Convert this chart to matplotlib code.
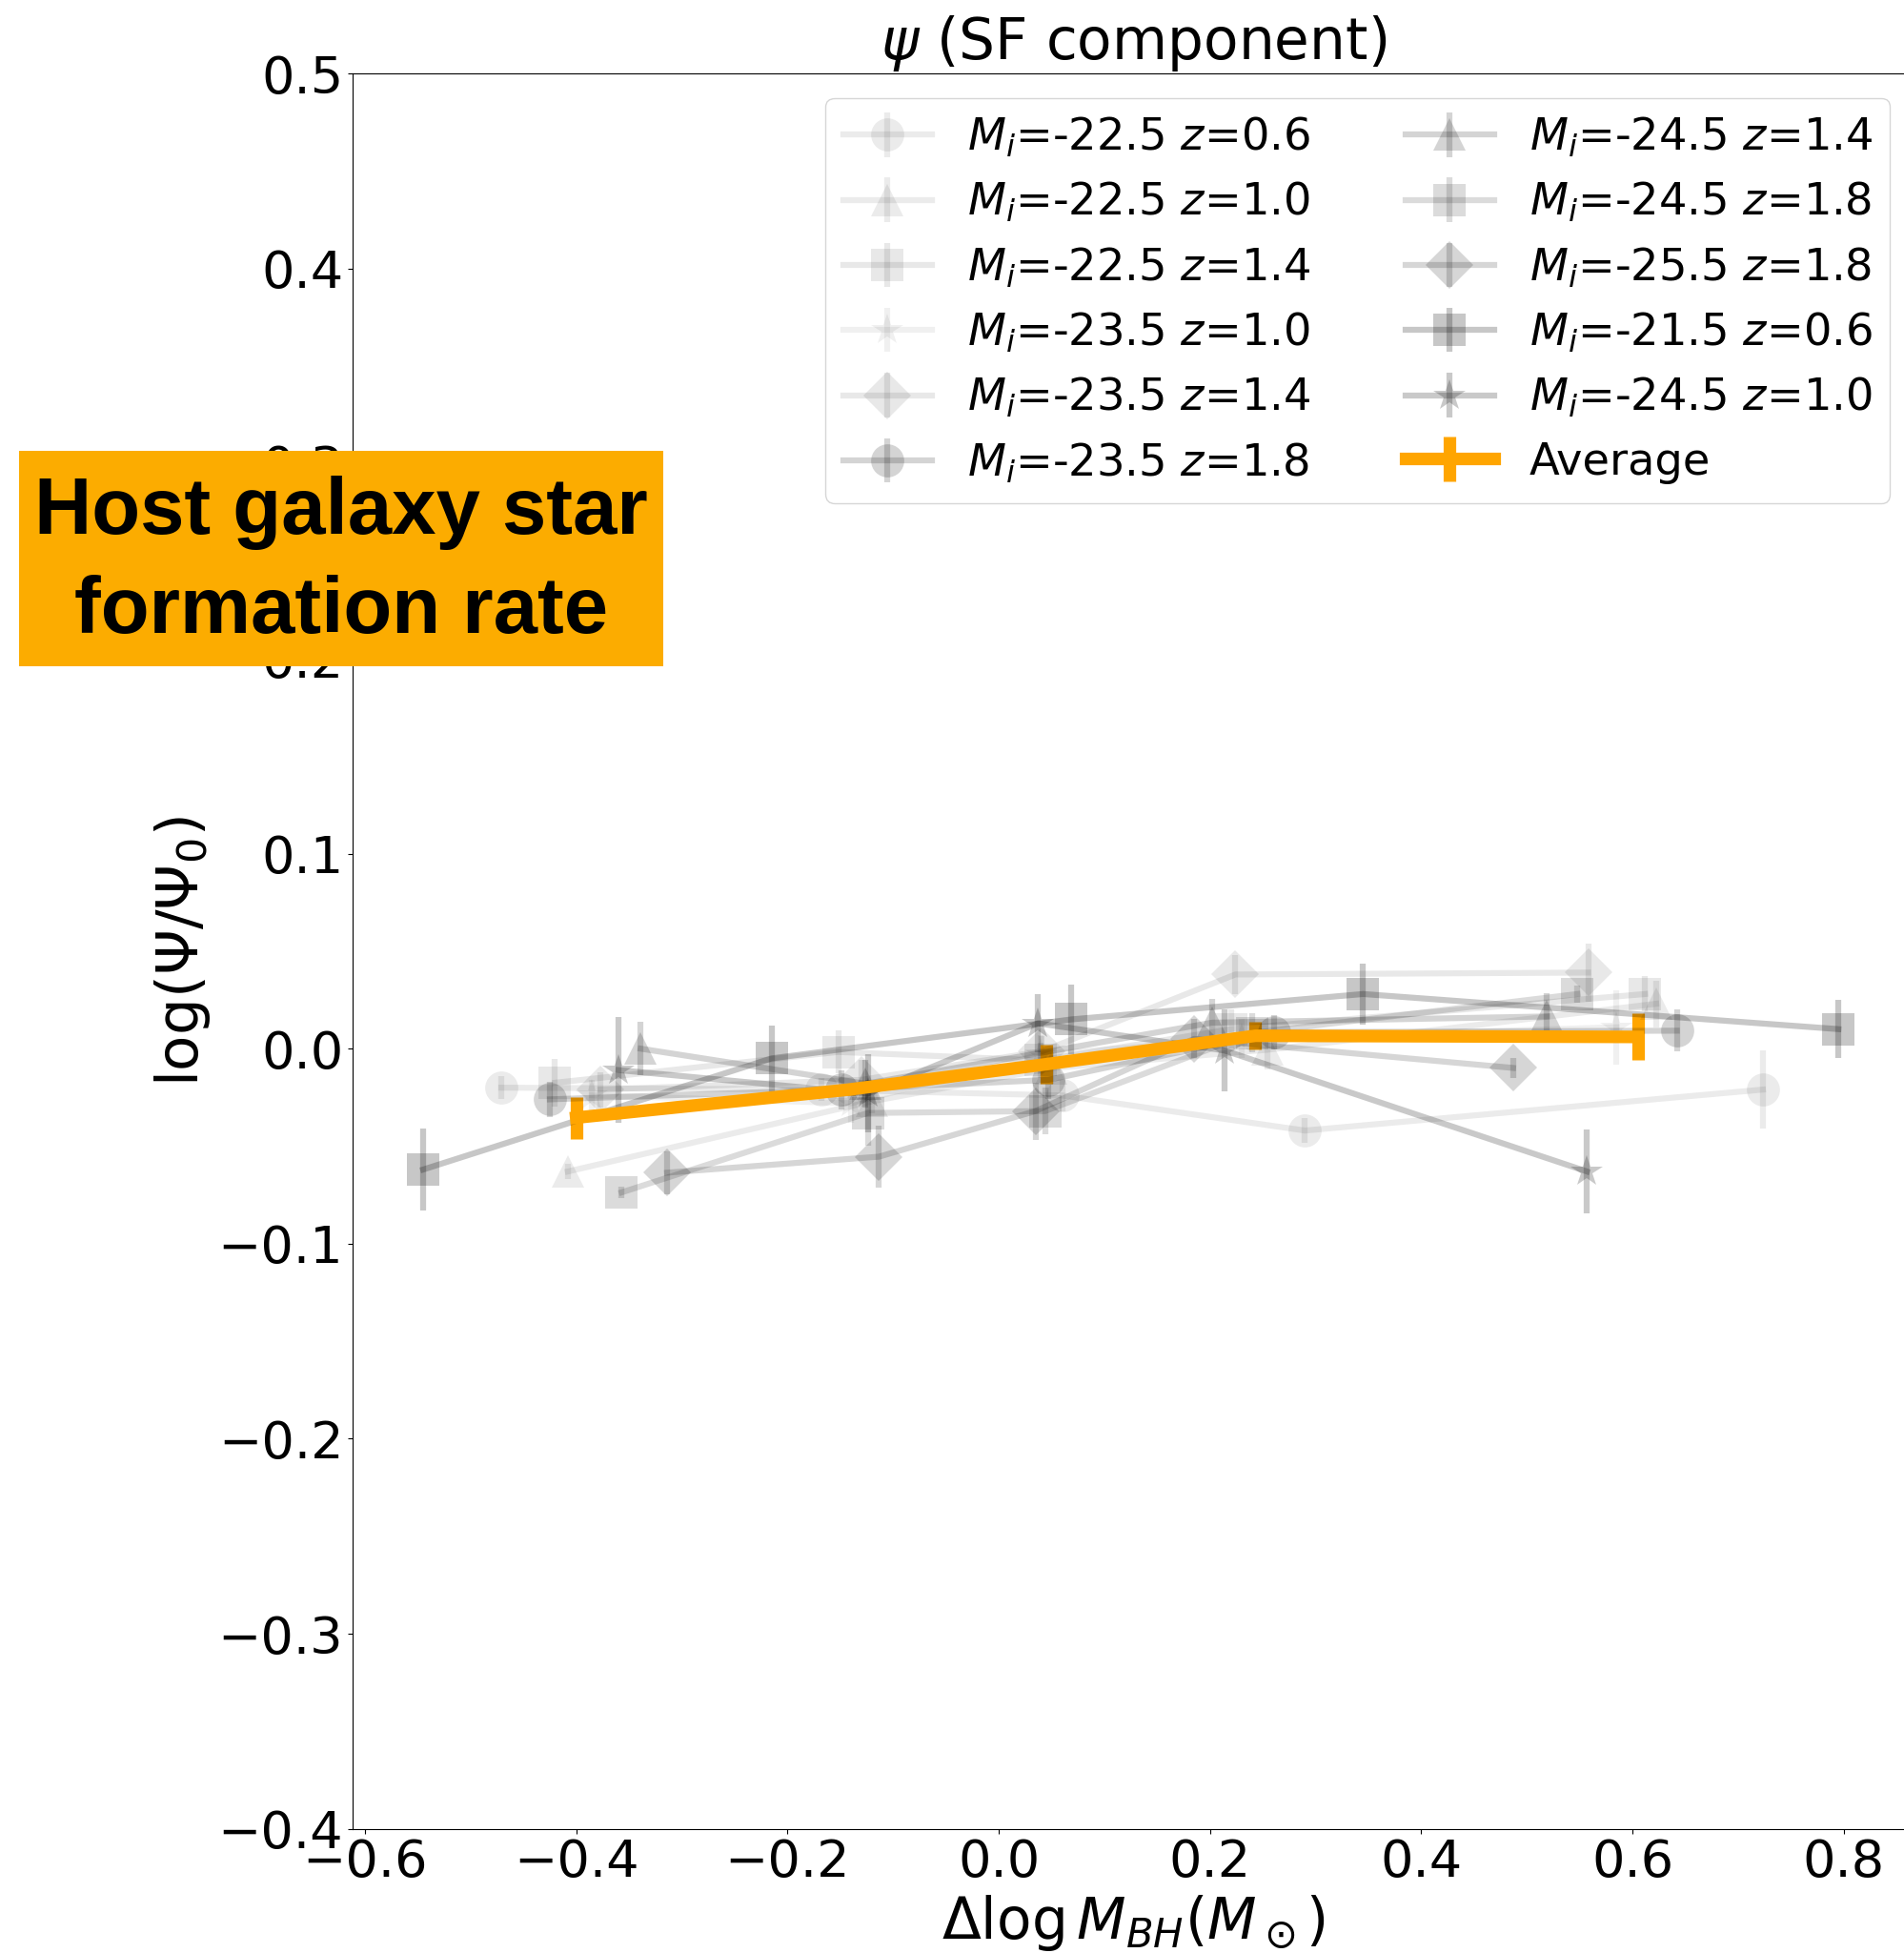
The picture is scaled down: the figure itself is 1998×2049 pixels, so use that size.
import matplotlib
matplotlib.use("Agg")
import matplotlib.pyplot as plt
from matplotlib.patches import Rectangle

# ---------------- data ----------------
labels = [r'$M_i$=-22.5 $z$=0.6', r'$M_i$=-22.5 $z$=1.0', r'$M_i$=-22.5 $z$=1.4',
          r'$M_i$=-23.5 $z$=1.0', r'$M_i$=-23.5 $z$=1.4', r'$M_i$=-23.5 $z$=1.8',
          r'$M_i$=-24.5 $z$=1.4', r'$M_i$=-24.5 $z$=1.8', r'$M_i$=-25.5 $z$=1.8',
          r'$M_i$=-21.5 $z$=0.6', r'$M_i$=-24.5 $z$=1.0']
markers = ['o', '^', 's', '*', 'D', 'o', '^', 's', 'D', 's', '*']
alphas = [0.08, 0.08, 0.09, 0.06, 0.09, 0.17, 0.17, 0.14, 0.16, 0.22, 0.21]

x_s1 = [-0.471, -0.168, 0.060, 0.290, 0.7235]
y_s1 = [-0.020, -0.021, -0.024, -0.042, -0.021]
e_s1 = [0.006, 0.006, 0.008, 0.0065, 0.020]

x_s2 = [-0.408, -0.120, 0.050, 0.254, 0.6225]
y_s2 = [-0.063, -0.027, -0.010, -0.0006, 0.023]
e_s2 = [0.004, 0.006, 0.008, 0.010, 0.012]

x_s3 = [-0.420, -0.152, 0.040, 0.220, 0.612]
y_s3 = [-0.0175, -0.0017, -0.006, 0.010, 0.028]
e_s3 = [0.012, 0.011, 0.009, 0.010, 0.009]

x_s4 = [-0.385, -0.140, 0.040, 0.230, 0.585]
y_s4 = [-0.024, -0.028, -0.003, 0.005, 0.011]
e_s4 = [0.008, 0.010, 0.010, 0.010, 0.019]

x_s5 = [-0.377, -0.130, 0.041, 0.224, 0.558]
y_s5 = [-0.021, -0.016, -0.0014, 0.038, 0.039]
e_s5 = [0.009, 0.010, 0.008, 0.010, 0.015]

x_s6 = [-0.425, -0.149, 0.047, 0.2605, 0.642]
y_s6 = [-0.026, -0.021, -0.016, 0.0084, 0.0092]
e_s6 = [0.009, 0.010, 0.010, 0.009, 0.0107]

x_s7 = [-0.339, -0.126, 0.2018, 0.519]
y_s7 = [0.000, -0.018, 0.0133, 0.0165]
e_s7 = [0.0136, 0.012, 0.012, 0.012]

x_s8 = [-0.357, -0.124, 0.044, 0.240, 0.548]
y_s8 = [-0.0737, -0.033, -0.032, 0.008, 0.028]
e_s8 = [0.003, 0.017, 0.012, 0.010, 0.0045]

x_s9 = [-0.314, -0.1134, 0.035, 0.185, 0.487]
y_s9 = [-0.0636, -0.0554, -0.032, 0.005, -0.0099]
e_s9 = [0.011, 0.016, 0.0147, 0.010, 0.005]

x_s10 = [-0.545, -0.215, 0.069, 0.345, 0.795]
y_s10 = [-0.062, -0.005, 0.015, 0.028, 0.010]
e_s10 = [0.0208, 0.017, 0.018, 0.0157, 0.015]

x_s11 = [-0.360, -0.124, 0.037, 0.214, 0.557]
y_s11 = [-0.011, -0.023, 0.013, -0.001, -0.063]
e_s11 = [0.027, 0.020, 0.015, 0.021, 0.0217]

x_avg = [-0.400, -0.142, 0.045, 0.243, 0.605]
y_avg = [-0.0354, -0.021, -0.008, 0.0066, 0.006]
e_avg = [0.0107, 0.003, 0.0098, 0.007, 0.012]

xs = [x_s1, x_s2, x_s3, x_s4, x_s5, x_s6, x_s7, x_s8, x_s9, x_s10, x_s11]
ys = [y_s1, y_s2, y_s3, y_s4, y_s5, y_s6, y_s7, y_s8, y_s9, y_s10, y_s11]
es = [e_s1, e_s2, e_s3, e_s4, e_s5, e_s6, e_s7, e_s8, e_s9, e_s10, e_s11]

# ---------------- figure ----------------
fig = plt.figure(figsize=(19.99, 20.49), dpi=100)
ax = fig.add_axes([0.1851, 0.0636, 0.8199, 0.8988])

for x, y, e, m, a, lab in zip(xs, ys, es, markers, alphas, labels):
    ax.errorbar(x, y, yerr=e, color='k', alpha=a, marker=m, markersize=25,
                markeredgewidth=0, lw=4.5, elinewidth=4.5, label=lab)

ax.errorbar(x_avg, y_avg, yerr=e_avg, color='orange', lw=9.5, elinewidth=9.5,
            solid_joinstyle='round', label='Average')

ax.set_xlim(-0.6117, 0.867)
ax.set_ylim(-0.4, 0.5)
ax.tick_params(labelsize=39)
ax.set_xlabel(r'$\Delta\log M_{BH}(M_\odot)$', fontsize=43)
ax.set_ylabel(r'$\log(\Psi/\Psi_0)$', fontsize=44)
ax.set_title(r'$\psi$ (SF component)', fontsize=43)
ax.spines['right'].set_visible(False)

ax.legend(loc='upper right', ncol=2, fontsize=33.4, labelspacing=0.47,
          columnspacing=2.15, borderaxespad=0.55)

# overlay label box
fig.add_artist(Rectangle((20 / 1999, 1 - 699 / 2049), 676 / 1999, 226 / 2049,
                         transform=fig.transFigure, facecolor='#FCAC00',
                         edgecolor='none', zorder=10))
fig.text(358 / 1999, 1 - 590 / 2049, 'Host galaxy star\nformation rate',
         ha='center', va='center', fontsize=60, family='Liberation Sans',
         weight='bold', color='black', zorder=11, linespacing=1.42)

fig.savefig('out.png', dpi=100)
